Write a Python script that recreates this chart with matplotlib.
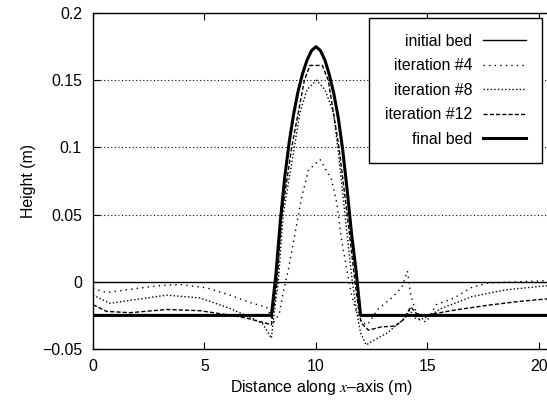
import matplotlib

matplotlib.use("Agg")
import matplotlib.pyplot as plt

plt.rcParams["font.family"] = ["Liberation Sans", "DejaVu Sans"]
plt.rcParams["mathtext.fontset"] = "stix"

# bed profiles (x in m, height in m)
x_init = [0.0, 20.6]
h_init = [0.0, 0.0]

x_it4 = [0.0, 0.61, 1.5, 2.85, 3.9, 5.1, 6.14, 7.04, 7.79, 8.1, 8.35, 8.53,
         8.76, 9.06, 9.36, 9.66, 10.18, 10.7, 10.93, 11.15, 11.38, 11.57,
         11.8, 12.05, 12.3, 12.8, 13.4, 13.85, 14.1, 14.25, 14.6, 14.95,
         15.4, 16.2, 17.0, 17.7, 19.0, 20.6]
h_it4 = [-0.005, -0.008, -0.006, -0.003, -0.002, -0.0045, -0.0099, -0.0154,
         -0.019, -0.03, -0.024, -0.008, 0.009, 0.036, 0.063, 0.083, 0.091,
         0.076, 0.059, 0.031, 0.009, -0.008, -0.022, -0.03, -0.032, -0.02,
         -0.012, -0.004, 0.008, -0.01, -0.028, -0.03, -0.017, -0.012, -0.004,
         -0.001, 0.0, 0.001]

x_it8 = [0.0, 0.76, 2.0, 3.3, 4.8, 6.14, 7.0, 7.6, 8.0, 8.15, 8.31, 8.53,
         9.03, 9.28, 9.6, 10.03, 10.4, 10.78, 10.98, 11.3, 11.63, 11.85,
         12.0, 12.25, 12.65, 13.2, 13.7, 14.0, 14.2, 14.45, 14.7, 15.0, 15.6,
         17.0, 18.5, 20.6]
h_it8 = [-0.0099, -0.016, -0.013, -0.0099, -0.012, -0.0198, -0.026, -0.031,
         -0.042, -0.02, 0.0, 0.05, 0.1, 0.126, 0.143, 0.15, 0.143, 0.126, 0.1,
         0.05, 0.0, -0.025, -0.038, -0.047, -0.043, -0.038, -0.031, -0.027,
         -0.021, -0.027, -0.028, -0.026, -0.02, -0.011, -0.006, -0.0025]

x_it12 = [0.0, 0.6, 1.66, 3.3, 4.8, 6.14, 6.89, 7.79, 8.0, 8.1, 8.25, 8.47,
          8.91, 9.48, 9.73, 10.28, 10.55, 11.03, 11.4, 11.75, 11.95, 12.05,
          12.35, 12.94, 13.54, 13.9, 14.25, 14.5, 14.88, 16.23, 17.72, 19.22,
          20.6]
h_it12 = [-0.017, -0.022, -0.023, -0.0206, -0.0215, -0.0248, -0.027, -0.031,
          -0.032, -0.02, 0.0, 0.05, 0.1, 0.15, 0.161, 0.161, 0.15, 0.1, 0.05,
          0.0, -0.025, -0.031, -0.036, -0.0335, -0.033, -0.0285, -0.0186,
          -0.0236, -0.025, -0.021, -0.0174, -0.0144, -0.0124]

x_final = [0.0, 8.0, 8.2, 8.4, 8.6, 8.8, 9.0, 9.2, 9.4, 9.6, 9.8, 10.0, 10.2,
           10.4, 10.6, 10.8, 11.0, 11.2, 11.4, 11.6, 11.8, 12.0, 20.6]
h_final = [-0.025, -0.025, 0.005, 0.045, 0.078, 0.104, 0.125, 0.142, 0.155,
           0.165, 0.172, 0.175, 0.172, 0.165, 0.154, 0.14, 0.122, 0.098,
           0.068, 0.035, 0.008, -0.025, -0.025]

x_ticks = [0, 5, 10, 15, 20]
y_ticks = [-0.05, 0, 0.05, 0.1, 0.15, 0.2]
y_tick_labels = ["\u22120.05", "0", "0.05", "0.1", "0.15", "0.2"]


def main():
    fig = plt.figure(figsize=(5.47, 4.03), dpi=100)
    W, H = 547, 403
    ax = fig.add_axes([93 / W, 54 / H, (549 - 93) / W, 336 / H])

    for yv in [0.05, 0.1, 0.15]:
        ax.axhline(yv, color="k", lw=0.8, ls=(0, (1, 2.2)), zorder=1)

    ax.plot(x_init, h_init, color="k", lw=1.0, label="initial bed", zorder=3)
    ax.plot(x_it4, h_it4, color="k", lw=1.0, ls=(0, (1, 3)),
            label="iteration #4", zorder=3)
    ax.plot(x_it8, h_it8, color="k", lw=1.0, ls=(0, (1, 1.6)),
            label="iteration #8", zorder=3)
    ax.plot(x_it12, h_it12, color="k", lw=1.0, ls=(0, (3, 1.5)),
            label="iteration #12", zorder=3)
    ax.plot(x_final, h_final, color="k", lw=2.2, label="final bed", zorder=4)

    ax.set_xlim(0, 20.45)
    ax.set_ylim(-0.05, 0.2)
    ax.set_xticks(x_ticks)
    ax.set_yticks(y_ticks)
    ax.set_yticklabels(y_tick_labels)
    ax.tick_params(direction="in", length=5, width=0.8, labelsize=11.4,
                   top=True, right=False, pad=8)
    ax.tick_params(axis="x", pad=7)
    for s in ax.spines.values():
        s.set_linewidth(1.0)

    ax.set_xlabel("Distance along $x$\u2013axis (m)", fontsize=11.4, labelpad=3)
    ax.set_ylabel("Height (m)", fontsize=11.4, labelpad=4)

    leg = ax.legend(loc="upper right", bbox_to_anchor=(542 / W, 1 - 18 / H),
                    bbox_transform=fig.transFigure, borderaxespad=0,
                    markerfirst=False, fontsize=11.4, handlelength=2.7,
                    handletextpad=0.7, labelspacing=0.6, fancybox=False,
                    framealpha=1, edgecolor="k", borderpad=1.0)
    leg.get_frame().set_linewidth(1.0)

    fig.savefig("out.png", dpi=100)


if __name__ == "__main__":
    main()
